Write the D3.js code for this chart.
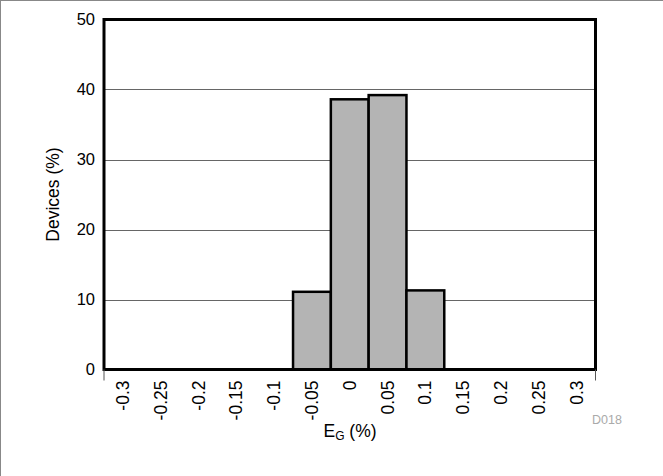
<!DOCTYPE html>
<html><head><meta charset="utf-8">
<script src="https://cdn.jsdelivr.net/npm/d3@7"></script>
<style>
html,body{margin:0;padding:0;background:#fff;}
svg{display:block;font-family:"Liberation Sans",Arial,sans-serif;}
</style></head>
<body>
<svg id="chart" width="663" height="476"></svg>
<script>
const categories = ["-0.3","-0.25","-0.2","-0.15","-0.1","-0.05","0","0.05","0.1","0.15","0.2","0.25","0.3"];
const devices =    [0,0,0,0,0,11.1,38.6,39.2,11.3,0,0,0,0];
const yTicks = [0,10,20,30,40,50];
const xTitle = "E";
const xTitleSub = "G";
const xTitleRest = " (%)";
const yTitle = "Devices (%)";
const note = "D018";

const svg = d3.select("#chart");
const m = {left:104, right:663-595.5, top:19.5, bottom:476-369.5};
const W = 663, H = 476;
const x = d3.scaleBand().domain(categories).range([m.left, W-m.right]).padding(0);
const y = d3.scaleLinear().domain([0,50]).range([H-m.bottom, m.top]);

// outer border (top & left)
svg.append("line").attr("x1",0).attr("x2",W).attr("y1",0.5).attr("y2",0.5).attr("stroke","#888").attr("stroke-width",1);
svg.append("line").attr("x1",0.5).attr("x2",0.5).attr("y1",0).attr("y2",H).attr("stroke","#888").attr("stroke-width",1);

// gridlines
svg.append("g").selectAll("line").data(yTicks.filter(d=>d>0&&d<50)).join("line")
  .attr("x1",m.left).attr("x2",W-m.right)
  .attr("y1",d=>Math.round(y(d))+0.5).attr("y2",d=>Math.round(y(d))+0.5)
  .attr("stroke","#666").attr("stroke-width",1);

// bars
svg.append("g").selectAll("rect").data(categories.map((c,i)=>({c,v:devices[i]})).filter(d=>d.v>0)).join("rect")
  .attr("x",d=>x(d.c)).attr("width",x.bandwidth())
  .attr("y",d=>y(d.v)).attr("height",d=>y(0)-y(d.v))
  .attr("fill","#b4b4b4").attr("stroke","#000").attr("stroke-width",2.5);

// frame
svg.append("rect").attr("x",m.left).attr("y",m.top)
  .attr("width",W-m.right-m.left).attr("height",H-m.bottom-m.top)
  .attr("fill","none").attr("stroke","#000").attr("stroke-width",3);

// end ticks below x axis
[m.left, W-m.right].forEach(px=>{
  svg.append("line").attr("x1",px).attr("x2",px).attr("y1",H-m.bottom).attr("y2",H-m.bottom+11)
    .attr("stroke","#555").attr("stroke-width",1);
});

// y axis labels
const yAxis = d3.axisLeft(y).tickValues(yTicks).tickSize(0).tickPadding(9);
const gy = svg.append("g").attr("transform",`translate(${m.left},0)`).call(yAxis);
gy.select(".domain").remove();
gy.selectAll("text").attr("font-size",16.5).attr("fill","#000").attr("font-family","Liberation Sans, Arial, sans-serif");

// x axis labels
const xAxis = d3.axisBottom(x).tickSize(0).tickPadding(0);
const gx = svg.append("g").attr("transform",`translate(0,${H-m.bottom})`).call(xAxis);
gx.select(".domain").remove();
gx.selectAll("text").attr("font-size",17.5).attr("fill","#000").attr("font-family","Liberation Sans, Arial, sans-serif")
  .attr("transform","rotate(-90)").attr("text-anchor","end")
  .attr("x",-11).attr("y",0).attr("dy","0.35em");

// titles
svg.append("text").attr("transform",`translate(59,${(m.top+H-m.bottom)/2}) rotate(-90)`)
  .attr("text-anchor","middle").attr("font-size",17.5).text(yTitle);
const xt = svg.append("text").attr("x",350).attr("y",437).attr("text-anchor","middle").attr("font-size",17.5);
xt.append("tspan").text(xTitle);
xt.append("tspan").attr("font-size",12).attr("dy",3).text(xTitleSub);
xt.append("tspan").attr("dy",-3).text(xTitleRest);

svg.append("text").attr("x",592).attr("y",424).attr("font-size",12.5).attr("fill","#aaa").text(note);
</script>
</body></html>
